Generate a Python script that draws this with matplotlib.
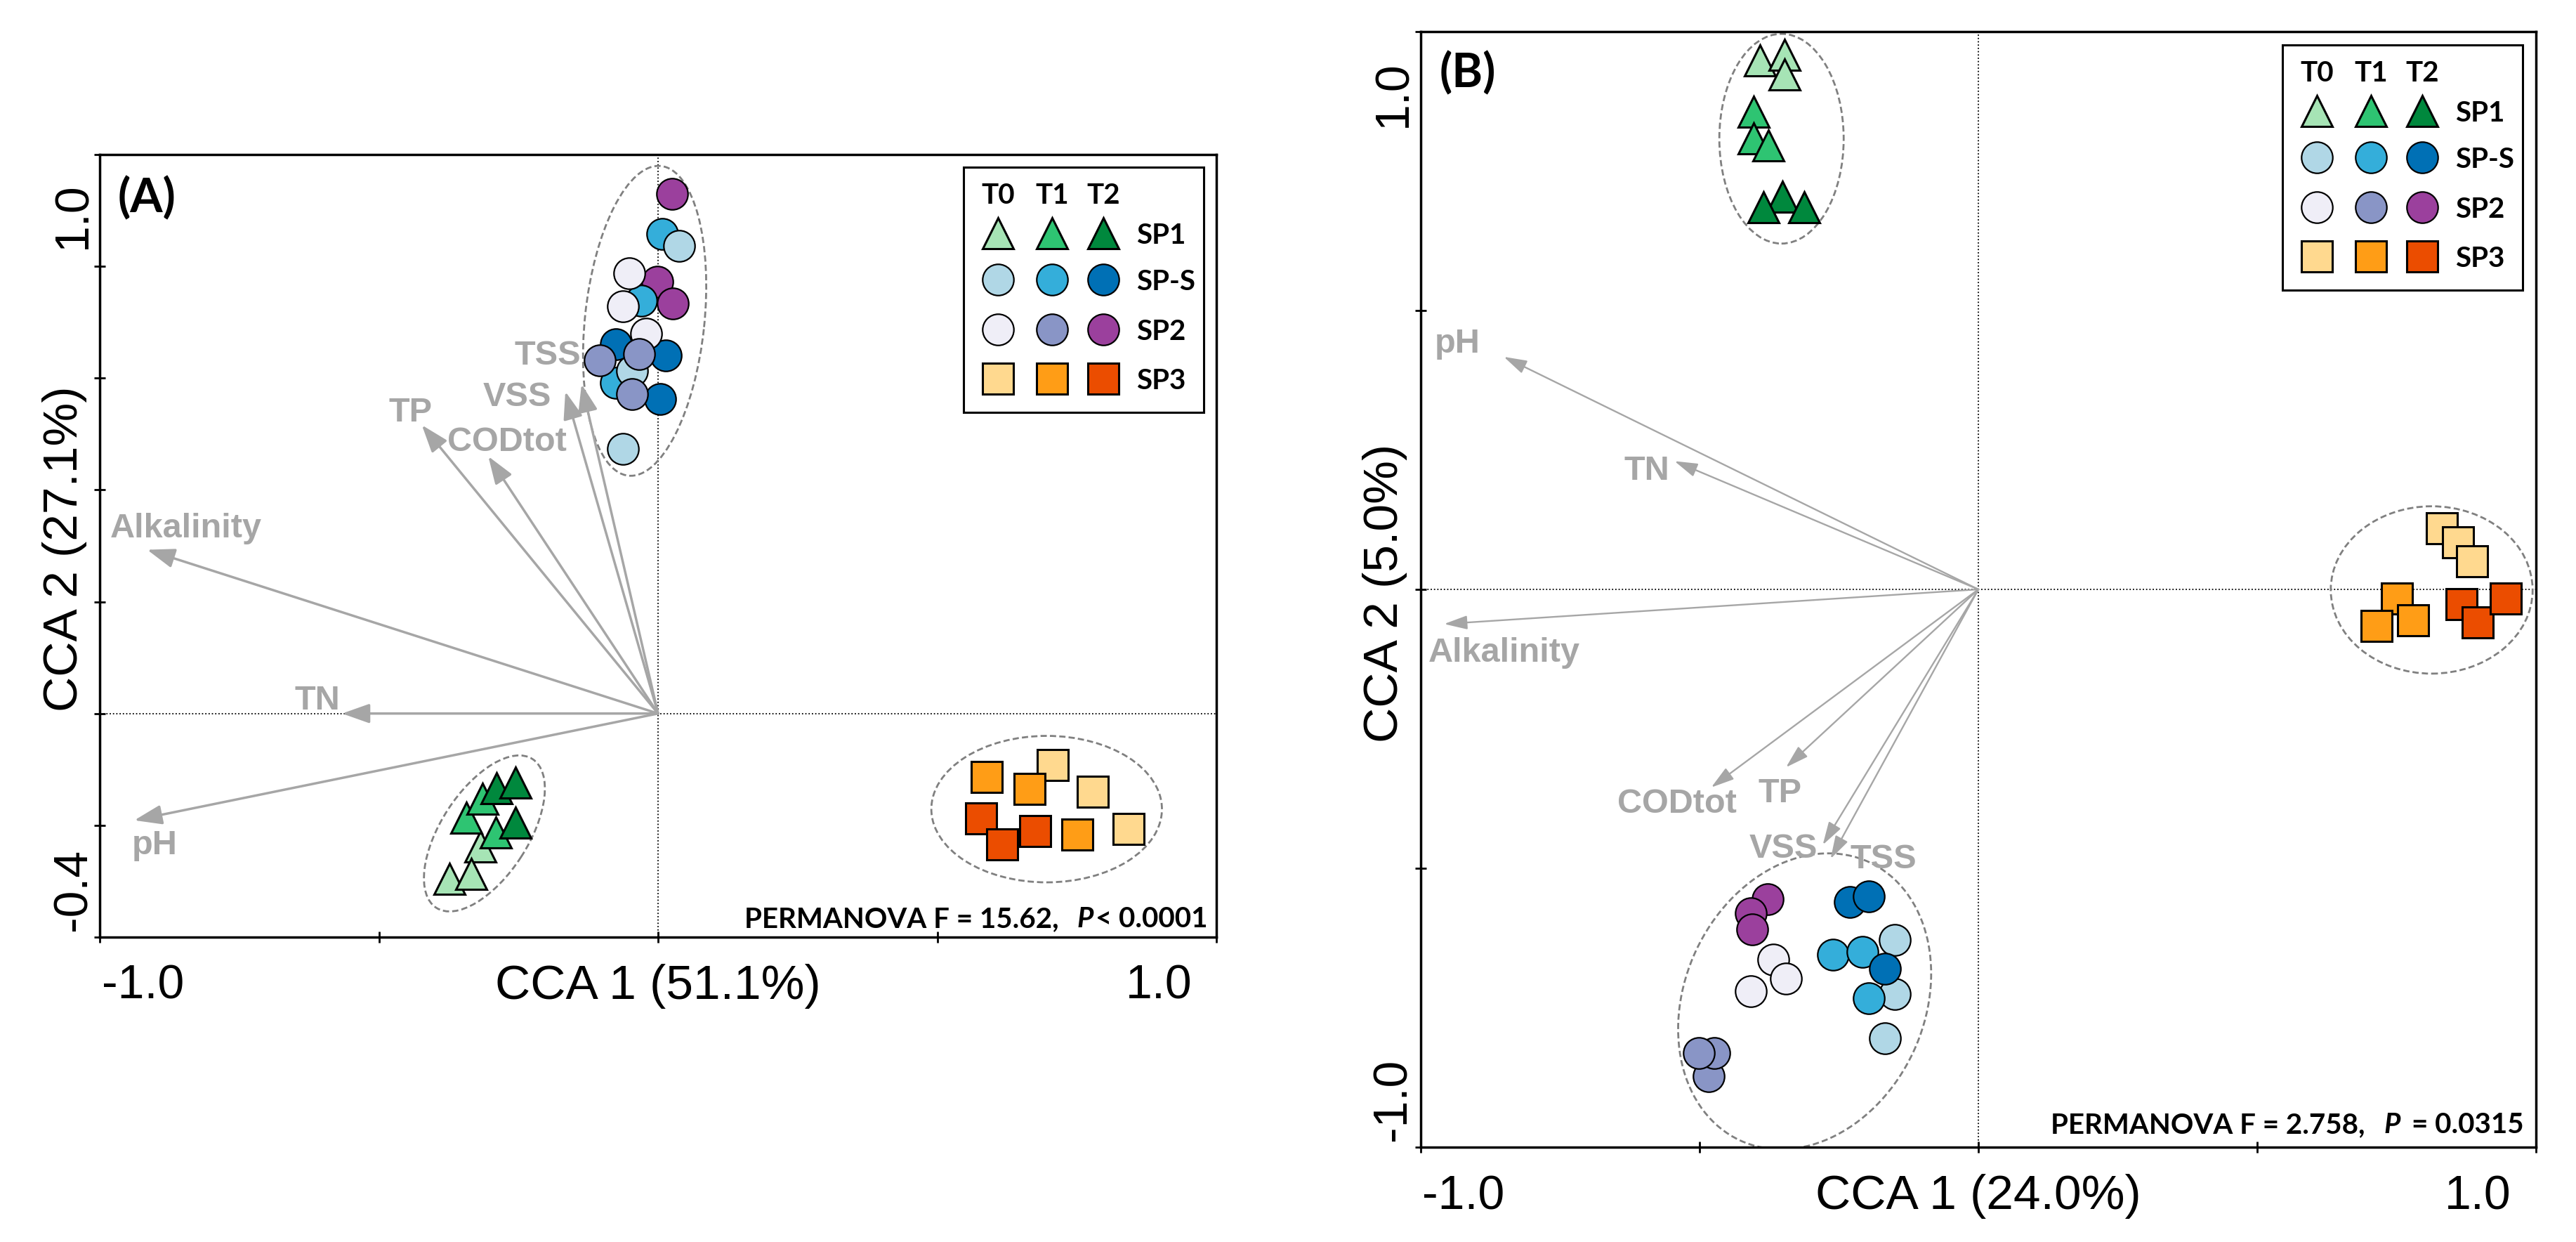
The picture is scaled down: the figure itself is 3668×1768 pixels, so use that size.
import matplotlib
matplotlib.use("Agg")
import matplotlib.pyplot as plt
from matplotlib.patches import Ellipse, Rectangle
from matplotlib.lines import Line2D

W, H = 3668, 1768
DPI = 100

# ---------------- data ----------------
groups = ["SP1", "SP-S", "SP2", "SP3"]
times = ["T0", "T1", "T2"]
group_markers = ["^", "o", "o", "s"]
colors_sp1 = ["#A6E4B5", "#2EC472", "#00883D"]
colors_sps = ["#B0D7E6", "#34AEDA", "#0070B5"]
colors_sp2 = ["#EFEEF7", "#8995C6", "#9B409D"]
colors_sp3 = ["#FFD98F", "#FF9D16", "#EB4D00"]

# sample scores, 3 replicates per time point: T0 T0 T0 T1 T1 T1 T2 T2 T2
# Panel A
a_sp1_x = [-0.318, -0.374, -0.335, -0.344, -0.315, -0.290, -0.289, -0.255, -0.255]
a_sp1_y = [-0.238, -0.296, -0.287, -0.186, -0.153, -0.213, -0.134, -0.124, -0.195]
a_sps_x = [0.038, -0.046, -0.063, 0.008, -0.030, -0.076, -0.076, 0.014, 0.004]
a_sps_y = [0.837, 0.613, 0.473, 0.858, 0.739, 0.592, 0.661, 0.641, 0.563]
a_sp2_x = [-0.051, -0.063, -0.021, -0.104, -0.034, -0.046, 0.025, -0.001, 0.026]
a_sp2_y = [0.788, 0.729, 0.680, 0.632, 0.643, 0.572, 0.929, 0.772, 0.734]
a_sp3_x = [0.707, 0.779, 0.843, 0.589, 0.665, 0.751, 0.578, 0.675, 0.616]
a_sp3_y = [-0.092, -0.140, -0.207, -0.114, -0.135, -0.217, -0.188, -0.210, -0.234]

# Panel B
b_sp1_x = [-0.392, -0.348, -0.348, -0.403, -0.403, -0.377, -0.351, -0.385, -0.312]
b_sp1_y = [0.948, 0.959, 0.923, 0.857, 0.809, 0.796, 0.704, 0.685, 0.685]
b_sps_x = [-0.150, -0.150, -0.167, -0.261, -0.208, -0.196, -0.231, -0.197, -0.167]
b_sps_y = [-0.629, -0.725, -0.805, -0.655, -0.650, -0.733, -0.561, -0.550, -0.680]
b_sp2_x = [-0.368, -0.345, -0.408, -0.483, -0.473, -0.501, -0.378, -0.408, -0.406]
b_sp2_y = [-0.664, -0.698, -0.721, -0.873, -0.831, -0.831, -0.555, -0.580, -0.610]
b_sp3_x = [0.831, 0.860, 0.886, 0.751, 0.714, 0.780, 0.866, 0.895, 0.946]
b_sp3_y = [0.109, 0.085, 0.051, -0.016, -0.066, -0.056, -0.026, -0.059, -0.016]

# environmental vectors
env_names = ["pH", "TN", "Alkalinity", "TP", "CODtot", "VSS", "TSS"]
a_env_x = [-0.938, -0.566, -0.915, -0.423, -0.304, -0.166, -0.137]
a_env_y = [-0.191, 0.000, 0.293, 0.516, 0.460, 0.576, 0.589]
b_env_x = [-0.851, -0.545, -0.958, -0.345, -0.479, -0.279, -0.265]
b_env_y = [0.417, 0.230, -0.062, -0.319, -0.355, -0.458, -0.483]

# group ellipses (center x, center y, width, height, angle)
a_ell_cx = [-0.311, -0.024, 0.696]
a_ell_cy = [-0.2145, 0.7025, -0.171]
a_ell_w = [0.317, 0.557, 0.413]
a_ell_h = [0.156, 0.214, 0.262]
a_ell_ang = [57, 84, 0]
b_ell_cx = [-0.353, -0.3115, 0.813]
b_ell_cy = [0.808, -0.7385, -0.001]
b_ell_w = [0.223, 0.55, 0.362]
b_ell_h = [0.376, 0.43, 0.300]
b_ell_ang = [0, 65, 0]

a_xlabel, a_ylabel = "CCA 1 (51.1%)", "CCA 2 (27.1%)"
b_xlabel, b_ylabel = "CCA 1 (24.0%)", "CCA 2 (5.0%)"
a_stat = ("PERMANOVA F = 15.62,", "P", "< 0.0001")
b_stat = ("PERMANOVA F = 2.758,", "P", "= 0.0315")
a_xticks = [-1.0, -0.5, 0.0, 0.5, 1.0]
a_yticks = [-0.4, -0.2, 0.0, 0.2, 0.4, 0.6, 0.8, 1.0]
b_xticks = [-1.0, -0.5, 0.0, 0.5, 1.0]
b_yticks = [-1.0, -0.5, 0.0, 0.5, 1.0]

# ---------------- style ----------------
GRAY = "#A6A6A6"
LAB_FONT = "Liberation Sans"
CAL_FONT = "Lato"

fig = plt.figure(figsize=(W / DPI, H / DPI), dpi=DPI)
fig.patch.set_facecolor("white")
renderer = fig.canvas.get_renderer()


def fx(px):
    return px / W


def fy(py):
    return 1 - py / H


def make_axes(left, top, right, bottom):
    ax = fig.add_axes([fx(left), fy(bottom), (right - left) / W, (bottom - top) / H])
    for s in ax.spines.values():
        s.set_linewidth(2.5)
    ax.tick_params(direction="inout", length=11, width=2, labelbottom=False, labelleft=False)
    return ax


axA = make_axes(142, 220, 1732, 1334)
axB = make_axes(2023, 45, 3611, 1633)

axA.set_xlim(-1, 1)
axA.set_ylim(-0.4, 1.0)
axA.set_xticks(a_xticks)
axA.set_yticks(a_yticks)
axB.set_xlim(-1, 1)
axB.set_ylim(-1, 1)
axB.set_xticks(b_xticks)
axB.set_yticks(b_yticks)

colors_all = [colors_sp1, colors_sps, colors_sp2, colors_sp3]
msize = {"^": 31, "o": 32, "s": 31}
mew = {"^": 2.2, "o": 1.6, "s": 2.2}


def draw_panel(ax, data, draw_order, env_x, env_y, lab_x, lab_y, ell, arrow_lw, head):
    ax.axhline(0, color="black", lw=1.3, ls=(0, (1, 1.6)), zorder=1)
    ax.axvline(0, color="black", lw=1.3, ls=(0, (1, 1.6)), zorder=1)
    cx, cy, ew, eh, ea = ell
    for i in range(len(cx)):
        ax.add_patch(Ellipse((cx[i], cy[i]), ew[i], eh[i], angle=ea[i], fill=False,
                             ec="#808080", lw=2.0, ls=(0, (3.2, 1.6)), zorder=2))
    for i, name in enumerate(env_names):
        ax.annotate("", xy=(env_x[i], env_y[i]), xytext=(0, 0),
                    arrowprops=dict(arrowstyle="-|>,head_length=%g,head_width=%g" % head,
                                    mutation_scale=10, color=GRAY, lw=arrow_lw,
                                    shrinkA=0, shrinkB=0), zorder=3)
        ax.text(lab_x[i], lab_y[i], name, color=GRAY, fontsize=35, fontweight="bold",
                family=LAB_FONT, ha="left", va="baseline", zorder=3)
    for gi, ti in draw_order:
        xs, ys = data[gi]
        m = group_markers[gi]
        ax.plot(xs[3 * ti:3 * ti + 3], ys[3 * ti:3 * ti + 3], ls="none", marker=m,
                ms=msize[m], mfc=colors_all[gi][ti], mec="black", mew=mew[m], zorder=4)


# label positions (data coords, baseline-left)
a_lab_x = [-0.942, -0.651, -0.981, -0.482, -0.377, -0.313, -0.257]
a_lab_y = [-0.252, 0.007, 0.315, 0.523, 0.470, 0.550, 0.624]
b_lab_x = [-0.975, -0.635, -0.987, -0.395, -0.647, -0.411, -0.230]
b_lab_y = [0.424, 0.197, -0.130, -0.382, -0.400, -0.481, -0.500]

a_data = [(a_sp1_x, a_sp1_y), (a_sps_x, a_sps_y), (a_sp2_x, a_sp2_y), (a_sp3_x, a_sp3_y)]
b_data = [(b_sp1_x, b_sp1_y), (b_sps_x, b_sps_y), (b_sp2_x, b_sp2_y), (b_sp3_x, b_sp3_y)]

orderA = [(0, 0), (0, 1), (0, 2), (2, 2), (1, 1), (1, 0), (1, 2), (2, 0), (2, 1), (3, 0), (3, 1), (3, 2)]
orderB = [(0, 0), (0, 1), (0, 2), (1, 0), (1, 1), (1, 2), (2, 0), (2, 1), (2, 2), (3, 0), (3, 1), (3, 2)]

draw_panel(axA, a_data, orderA, a_env_x, a_env_y, a_lab_x, a_lab_y,
           (a_ell_cx, a_ell_cy, a_ell_w, a_ell_h, a_ell_ang), 2.5, (2.4, 0.85))
draw_panel(axB, b_data, orderB, b_env_x, b_env_y, b_lab_x, b_lab_y,
           (b_ell_cx, b_ell_cy, b_ell_w, b_ell_h, b_ell_ang), 1.7, (2.0, 0.6))

# ---------------- tick labels & axis labels ----------------
TICK_FS = 49


def ftext(x, y, s, **kw):
    return fig.text(fx(x), fy(y), s, **kw)


for (xl, xr, base, yb, ytop_c, ybot_c, ytop_s, ybot_s, xc, ylab_b, ylab_c, xlab, ylab) in [
    (145, 1698, 1422, 122, 307, 1266, "1.0", "-0.4", 937, 110, 781, a_xlabel, a_ylabel),
    (2025, 3576, 1721, 2002, 134, 1565, "1.0", "-1.0", 2817, 1990, 844, b_xlabel, b_ylabel),
]:
    ftext(xl, base, "-1.0", ha="left", va="baseline", fontsize=TICK_FS, family=LAB_FONT)
    ftext(xr, base, "1.0", ha="right", va="baseline", fontsize=TICK_FS, family=LAB_FONT)
    ftext(yb, ytop_c, ytop_s, ha="center", va="baseline", rotation=90, rotation_mode="anchor",
          fontsize=TICK_FS, family=LAB_FONT)
    ftext(yb, ybot_c, ybot_s, ha="center", va="baseline", rotation=90, rotation_mode="anchor",
          fontsize=TICK_FS, family=LAB_FONT)
    ftext(xc, base, xlab, ha="center", va="baseline", fontsize=50, family=LAB_FONT)
    ftext(ylab_b, ylab_c, ylab, ha="center", va="baseline", rotation=90, rotation_mode="anchor",
          fontsize=50, family=LAB_FONT)

# panel letters
ftext(168, 302, "(A)", ha="left", va="baseline", fontsize=48, fontweight="bold", family=CAL_FONT)
ftext(2050, 124, "(B)", ha="left", va="baseline", fontsize=48, fontweight="bold", family=CAL_FONT)


# PERMANOVA statistics (right aligned, built right-to-left; gaps in pixels)
def stat_text(xr, base, parts, gaps):
    pre, p, post = parts
    kw = dict(va="baseline", fontsize=29, fontweight="bold", family=CAL_FONT, zorder=8)
    t3 = ftext(xr, base, post, ha="right", **kw)
    bb3 = t3.get_window_extent(renderer)
    t2 = fig.text((bb3.x0 - gaps[1]) / W, fy(base), p, ha="right", fontstyle="italic", **kw)
    bb2 = t2.get_window_extent(renderer)
    fig.text((bb2.x0 - gaps[0]) / W, fy(base), pre, ha="right", **kw)


stat_text(1719, 1320, a_stat, (26, 3))
stat_text(3594, 1613, b_stat, (26, 17))


# ---------------- legends ----------------
def draw_legend(L, T):
    fig.add_artist(Rectangle((fx(L), fy(T + 349)), 342 / W, 349 / H, transform=fig.transFigure,
                             fc="white", ec="black", lw=2.2, zorder=5))
    cols = [49, 126, 199]
    rows = [94, 160, 231, 301]
    for j, t in enumerate(times):
        ftext(L + cols[j], T + 52, t, ha="center", va="baseline", fontsize=29,
              fontweight="bold", family=CAL_FONT, zorder=7)
    for gi, g in enumerate(groups):
        m = group_markers[gi]
        for j in range(3):
            fig.add_artist(Line2D([fx(L + cols[j])], [fy(T + rows[gi])], transform=fig.transFigure,
                                  ls="none", marker=m, ms=msize[m], mfc=colors_all[gi][j],
                                  mec="black", mew=mew[m], zorder=6))
        ftext(L + 246, T + rows[gi] + 15, g, ha="left", va="baseline", fontsize=29,
              fontweight="bold", family=CAL_FONT, zorder=7)


draw_legend(1372, 238)
draw_legend(3250, 64)

fig.savefig("out.png", dpi=DPI, facecolor="white")
